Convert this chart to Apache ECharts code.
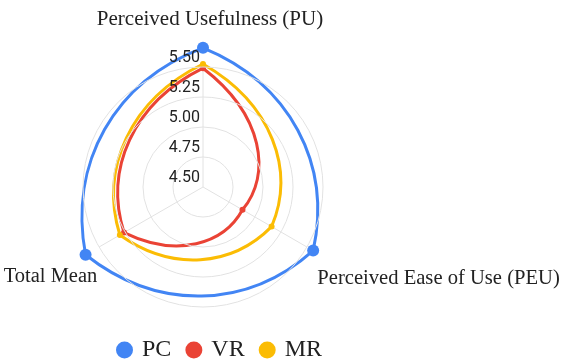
<!DOCTYPE html>
<html>
<head>
<meta charset="utf-8">
<title>Radar</title>
<script src="https://cdn.jsdelivr.net/npm/echarts@6/dist/echarts.min.js"></script>
<style>
  html, body { margin: 0; padding: 0; background: #fff; }
  #chart { width: 564px; height: 360px; }
</style>
</head>
<body>
<div id="chart"></div>
<script>
// indicators, clockwise from the top
const indicators = ['Perceived Usefulness (PU)', 'Perceived Ease of Use (PEU)', 'Total Mean']
const groups = ['PC', 'VR', 'MR']
const pcScores = [5.66, 5.56, 5.63]
const vrScores = [5.49, 4.88, 5.26]
const mrScores = [5.525, 5.16, 5.30]
const scaleMin = 4.5
const scaleMax = 5.5
const scaleStep = 0.25

const colors = ['#4285F4', '#EA4335', '#FBBC04']
const seriesScores = [pcScores, vrScores, mrScores]
const step = 360 / indicators.length
const nameKeys = ['pu', 'peu', 'tm']

// polar points [radius, angle]
const toPoints = (scores) => scores.map((v, i) => [v, i * step])

const chart = echarts.init(document.getElementById('chart'))

const nameFont = { fontFamily: 'Liberation Serif', fontSize: 21, color: '#222' }

// smoothed closed loop: each edge is a bezier whose control points sit
// at 1/3 and 2/3 of the way round the polar arc between two scores
const renderLoop = (dotRadius) => (params, api) => {
    const n = params.dataInsideLength
    const color = api.visual('color')
    const idx = params.dataIndexInside
    const here = api.coord([api.value(0), api.value(1)])
    const children = []
    if (idx === 0) {
        let d = ''
        for (let i = 0; i < n; i++) {
            const r0 = api.value(0, i)
            const a0 = api.value(1, i)
            const r1 = api.value(0, (i + 1) % n)
            const a1 = a0 + step
            const p0 = api.coord([r0, a0])
            const c1 = api.coord([r0 + (r1 - r0) / 3, a0 + step / 3])
            const c2 = api.coord([r0 + (r1 - r0) * 2 / 3, a0 + step * 2 / 3])
            const p1 = api.coord([r1, a1])
            if (i === 0) d += 'M' + p0[0] + ' ' + p0[1]
            d += ' C' + c1[0] + ' ' + c1[1] + ' ' + c2[0] + ' ' + c2[1] + ' ' + p1[0] + ' ' + p1[1]
        }
        d += ' Z'
        children.push({
            type: 'path',
            shape: { pathData: d },
            style: { fill: 'none', stroke: color, lineWidth: 3, lineJoin: 'round' }
        })
    }
    children.push({
        type: 'circle',
        shape: { cx: here[0], cy: here[1], r: dotRadius },
        style: { fill: color }
    })
    return { type: 'group', children: children }
}

const option = {
    animation: false,
    polar: {
        center: [203, 187],
        radius: 120
    },
    angleAxis: {
        type: 'value',
        min: 0,
        max: 360,
        interval: step,
        startAngle: 90,
        clockwise: true,
        axisLine: { show: false },
        axisTick: { show: false },
        splitLine: { show: true, lineStyle: { color: '#e2e2e2', width: 1 } },
        axisLabel: {
            margin: 12,
            formatter: (v) => {
                const i = Math.round(v / step)
                if (i >= indicators.length) return ''
                return '{' + nameKeys[i] + '|' + indicators[i] + '}'
            },
            rich: {
                pu: Object.assign({}, nameFont, { padding: [0, 0, 25, 14] }),
                peu: Object.assign({}, nameFont, { fontSize: 20.6, padding: [15, 0, 0, 0] }),
                tm: Object.assign({}, nameFont, { fontSize: 20.5, padding: [13, 0, 0, 0], width: 85, align: 'left' })
            }
        }
    },
    radiusAxis: {
        type: 'value',
        min: scaleMin,
        max: scaleMax,
        interval: scaleStep,
        axisLine: { show: false },
        axisTick: { show: false },
        splitLine: { show: true, lineStyle: { color: '#e2e2e2', width: 1 } },
        axisLabel: {
            margin: 3,
            align: 'right',
            verticalAlign: 'bottom',
            padding: [0, 0, 1, 0],
            fontFamily: 'Roboto',
            fontSize: 16,
            color: '#222',
            formatter: (v) => v.toFixed(2)
        },
        z: 10
    },
    legend: {
        data: groups,
        left: 111,
        top: 333,
        icon: 'circle',
        itemWidth: 17,
        itemHeight: 17,
        itemGap: 14,
        textStyle: {
            fontFamily: 'Liberation Serif',
            fontSize: 24,
            color: '#222',
            padding: [0, 0, 0, 4]
        }
    },
    series: groups.map((g, k) => ({
        name: g,
        type: 'custom',
        coordinateSystem: 'polar',
        data: toPoints(seriesScores[k]),
        renderItem: renderLoop(k === 0 ? 6 : 3),
        itemStyle: { color: colors[k] },
        z: 2 + k
    }))
}

chart.setOption(option)
</script>
</body>
</html>
